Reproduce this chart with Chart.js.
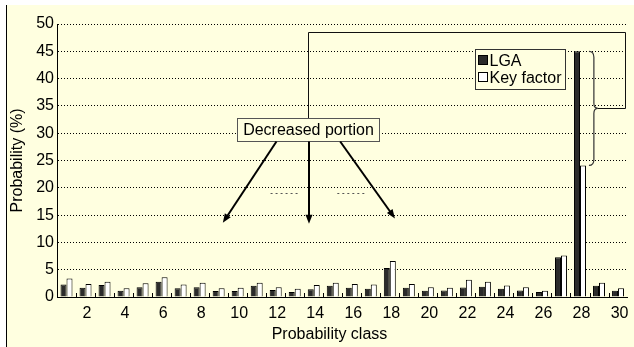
<!DOCTYPE html>
<html>
<head>
<meta charset="utf-8">
<script src="https://cdn.jsdelivr.net/npm/chart.js@4.4.0/dist/chart.umd.min.js"></script>
<style>
  html, body { margin: 0; padding: 0; background: #fff; }
  #wrap { width: 634px; height: 347px; }
</style>
</head>
<body>
<div id="wrap"><canvas id="myChart" width="634" height="347"></canvas></div>
<script>
// probability classes 1..30
const classes = [1, 2, 3, 4, 5, 6, 7, 8, 9, 10, 11, 12, 13, 14, 15,
                 16, 17, 18, 19, 20, 21, 22, 23, 24, 25, 26, 27, 28, 29, 30];

// probability (%) per class
const lgaValues = [2.3, 1.7, 2.2, 1.15, 1.8, 2.8, 1.6, 1.8, 1.1, 1.1,
                   2.05, 1.27, 0.9, 1.4, 2.05, 1.7, 1.5, 5.3, 1.7, 1.15,
                   1.2, 1.75, 1.9, 1.5, 1.2, 0.9, 7.3, 45, 2.05, 1.15];
const keyFactorValues = [3.4, 2.4, 2.8, 1.6, 2.5, 3.6, 2.3, 2.6, 1.6, 1.7,
                         2.6, 1.8, 1.5, 2.2, 2.6, 2.4, 2.3, 6.6, 2.4, 1.8,
                         1.7, 3.15, 2.8, 2.1, 1.8, 1.15, 7.6, 24.1, 2.6, 1.6];

const yTicks = [0, 5, 10, 15, 20, 25, 30, 35, 40, 45, 50];

const plotYellow = 'rgb(255,255,224)';
const FONT = '"Liberation Sans", Arial, sans-serif';

// white page, yellow figure area with a rule on its left side
const frame = {
  id: 'frame',
  beforeDraw(chart) {
    const ctx = chart.ctx;
    ctx.save();
    ctx.fillStyle = '#fff';
    ctx.fillRect(0, 0, chart.width, chart.height);
    ctx.fillStyle = plotYellow;
    ctx.fillRect(7, 5, chart.width - 7, chart.height - 5);
    ctx.strokeStyle = '#000';
    ctx.lineWidth = 1;
    ctx.beginPath();
    ctx.moveTo(6.5, 5);
    ctx.lineTo(6.5, chart.height);
    ctx.stroke();
    ctx.restore();
  }
};

function arrow(ctx, x1, y1, x2, y2) {
  const ang = Math.atan2(y2 - y1, x2 - x1);
  const len = 9, half = 3.5;
  ctx.beginPath();
  ctx.moveTo(x1, y1);
  ctx.lineTo(x2 - Math.cos(ang) * len * 0.8, y2 - Math.sin(ang) * len * 0.8);
  ctx.stroke();
  ctx.beginPath();
  ctx.moveTo(x2, y2);
  ctx.lineTo(x2 - Math.cos(ang) * len - Math.sin(ang) * half, y2 - Math.sin(ang) * len + Math.cos(ang) * half);
  ctx.lineTo(x2 - Math.cos(ang) * len + Math.sin(ang) * half, y2 - Math.sin(ang) * len - Math.cos(ang) * half);
  ctx.closePath();
  ctx.fill();
}

// callouts, brace, tick marks, legend and axis titles
const annotations = {
  id: 'annotations',
  afterDatasetsDraw(chart) {
    const ctx = chart.ctx;
    const xs = chart.scales.x, ys = chart.scales.y;
    const X = c => xs.getPixelForValue(c - 1);
    const Y = v => ys.getPixelForValue(v);
    const area = chart.chartArea;
    ctx.save();

    // small tick marks between category groups
    ctx.strokeStyle = '#000';
    ctx.lineWidth = 1;
    for (let i = 1; i < classes.length; i++) {
      const px = Math.round(X(i + 0.5)) + 0.5;
      ctx.beginPath();
      ctx.moveTo(px, area.bottom);
      ctx.lineTo(px, area.bottom - 4);
      ctx.stroke();
    }

    // brace around the gap at class 28
    const top = Y(lgaValues[27]), bot = Y(keyFactorValues[27]);
    const mid = (top + bot) / 2;
    const endX = X(28.47), spine = X(28.73), tip = X(28.94);
    ctx.strokeStyle = '#333';
    ctx.lineWidth = 1.2;
    ctx.beginPath();
    ctx.moveTo(endX, top);
    ctx.quadraticCurveTo(spine, top, spine, top + 6);
    ctx.lineTo(spine, mid - 5);
    ctx.quadraticCurveTo(spine, mid, tip, mid);
    ctx.quadraticCurveTo(spine, mid, spine, mid + 5);
    ctx.lineTo(spine, bot - 6);
    ctx.quadraticCurveTo(spine, bot, endX, bot);
    ctx.stroke();

    // bracket from the brace back over to the label box
    const rail = Y(48.5);
    const lineX = Math.round(X(13.72)) + 0.5;
    const railRight = Math.round(X(30.35)) + 0.5;
    ctx.strokeStyle = '#111';
    ctx.lineWidth = 1;
    ctx.beginPath();
    ctx.moveTo(tip, Math.round(mid) + 0.5);
    ctx.lineTo(railRight, Math.round(mid) + 0.5);
    ctx.lineTo(railRight, Math.round(rail) + 0.5);
    ctx.lineTo(lineX, Math.round(rail) + 0.5);
    ctx.lineTo(lineX, Y(32.7));
    ctx.stroke();

    // label box
    const bx1 = Math.round(X(9.95)) + 0.5, bx2 = Math.round(X(17.44)) + 0.5;
    const by1 = Math.round(Y(32.7)) + 0.5, by2 = Math.round(Y(28.5)) + 0.5;
    ctx.fillStyle = plotYellow;
    ctx.fillRect(bx1, by1, bx2 - bx1, by2 - by1);
    ctx.strokeStyle = '#555';
    ctx.strokeRect(bx1, by1, bx2 - bx1, by2 - by1);
    ctx.fillStyle = '#000';
    ctx.font = '16px ' + FONT;
    ctx.textAlign = 'center';
    ctx.textBaseline = 'middle';
    ctx.fillText('Decreased portion', (bx1 + bx2) / 2, (by1 + by2) / 2 + 1);

    // arrows down to the decreased bars
    ctx.strokeStyle = '#000';
    ctx.fillStyle = '#000';
    ctx.lineWidth = 2;
    arrow(ctx, X(12.04), by2, X(9.22), Y(13.6));
    arrow(ctx, X(13.75), by2, X(13.75), Y(13.4));
    arrow(ctx, X(15.39), by2, X(18.27), Y(14.4));

    // short dotted marks between the arrows
    ctx.strokeStyle = '#555';
    ctx.lineWidth = 1;
    ctx.setLineDash([2, 3]);
    const dy = Math.round(Y(19.1)) + 0.5;
    ctx.beginPath();
    ctx.moveTo(X(11.73), dy); ctx.lineTo(X(13.25), dy);
    ctx.moveTo(X(15.24), dy); ctx.lineTo(X(16.76), dy);
    ctx.stroke();
    ctx.setLineDash([]);

    // legend
    const lx = Math.round(X(22.5)) + 0.5, ly = Math.round(Y(45.5)) + 0.5;
    const lw = 90, lh = 40;
    ctx.fillStyle = plotYellow;
    ctx.fillRect(lx, ly, lw, lh);
    ctx.strokeStyle = '#333';
    ctx.strokeRect(lx, ly, lw, lh);
    ctx.textAlign = 'left';
    ctx.textBaseline = 'middle';
    ctx.font = '16px ' + FONT;
    chart.data.datasets.forEach((ds, i) => {
      const cy = ly + 10 + i * 17;
      ctx.fillStyle = ds.backgroundColor;
      ctx.fillRect(lx + 3, cy - 4, 9, 9);
      ctx.strokeStyle = '#000';
      ctx.strokeRect(lx + 3, cy - 4, 9, 9);
      ctx.fillStyle = '#000';
      ctx.fillText(ds.label, lx + 14, cy + 2);
    });

    // axis titles
    ctx.fillStyle = '#000';
    ctx.font = '16px ' + FONT;
    ctx.textAlign = 'center';
    ctx.textBaseline = 'middle';
    ctx.fillText('Probability class', 329.5, 335);
    ctx.translate(18, (area.top + area.bottom) / 2);
    ctx.rotate(-Math.PI / 2);
    ctx.fillText('Probability (%)', 0, 0);

    ctx.restore();
  }
};

const data = {
  labels: classes.map(String),
  datasets: [{
    label: 'LGA',
    data: lgaValues,
    backgroundColor: '#2b2b2b',
    borderColor: '#000',
    borderWidth: 1,
    barPercentage: 1,
    categoryPercentage: 0.63
  }, {
    label: 'Key factor',
    data: keyFactorValues,
    backgroundColor: '#ffffff',
    borderColor: '#000',
    borderWidth: 1,
    barPercentage: 1,
    categoryPercentage: 0.63
  }]
};

const config = {
  type: 'bar',
  data: data,
  options: {
    responsive: false,
    animation: false,
    events: [],
    layout: { padding: { top: 24, right: 4, bottom: 0, left: 0 } },
    plugins: {
      legend: { display: false },
      tooltip: { enabled: false }
    },
    scales: {
      x: {
        grid: { display: false, drawTicks: false },
        border: { display: true, color: '#000', width: 1 },
        ticks: {
          color: '#000',
          font: { family: FONT, size: 16 },
          autoSkip: false,
          maxRotation: 0,
          padding: 7,
          labelOffset: 1.5,
          callback: (val, i) => classes[i] % 2 === 0 ? String(classes[i]) : ''
        },
        afterFit: s => { s.height = 50; }
      },
      y: {
        min: 0,
        max: 50,
        afterBuildTicks: s => { s.ticks = yTicks.map(v => ({ value: v })); },
        grid: { color: '#000', lineWidth: 1, drawTicks: false },
        border: { display: true, color: '#000', width: 1, dash: [1, 2] },
        ticks: {
          color: '#000',
          font: { family: FONT, size: 16 },
          padding: 3
        },
        afterFit: s => { s.width = 57; }
      }
    }
  },
  plugins: [frame, annotations]
};

const myChart = new Chart(document.getElementById('myChart'), config);
</script>
</body>
</html>
